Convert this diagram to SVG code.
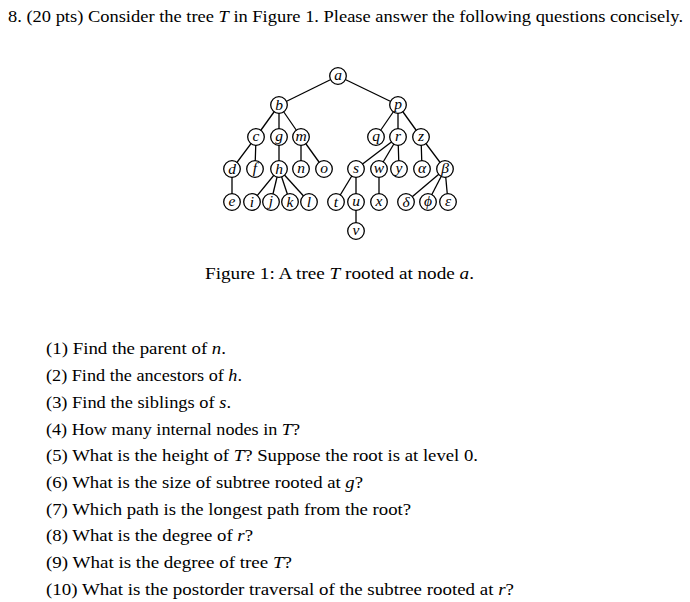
<svg xmlns="http://www.w3.org/2000/svg" width="690" height="602" viewBox="0 0 690 602">
<style>
.t{font-size:16px;font-family:"Liberation Serif",serif}
.i{font-style:italic}
.node circle{fill:#fff;stroke:#000;stroke-width:1.3}
.node text{font-size:15.5px;font-style:italic;text-anchor:middle;font-family:"Liberation Serif",serif}
#edges line{stroke:#000;stroke-width:1.3}
</style>
<rect width="690" height="602" fill="#fff"/>
<text class="t" x="8" y="22" textLength="675" lengthAdjust="spacingAndGlyphs">8. (20 pts) Consider the tree <tspan class="i">T</tspan> in Figure 1. Please answer the following questions concisely.</text>
<g id="edges">
<line x1="338" y1="76" x2="279" y2="105"/><line x1="338" y1="76" x2="398" y2="105"/>
<line x1="279" y1="105" x2="256" y2="137"/><line x1="279" y1="105" x2="279" y2="137"/><line x1="279" y1="105" x2="301" y2="137"/>
<line x1="398" y1="105" x2="376" y2="137"/><line x1="398" y1="105" x2="398" y2="137"/><line x1="398" y1="105" x2="421" y2="137"/>
<line x1="256" y1="137" x2="232" y2="169"/><line x1="256" y1="137" x2="255" y2="169"/>
<line x1="279" y1="137" x2="279" y2="169"/>
<line x1="301" y1="137" x2="301" y2="169"/><line x1="301" y1="137" x2="324" y2="169"/>
<line x1="398" y1="137" x2="356" y2="169"/><line x1="398" y1="137" x2="379" y2="169"/><line x1="398" y1="137" x2="399" y2="169"/>
<line x1="421" y1="137" x2="422" y2="169"/><line x1="421" y1="137" x2="445" y2="169"/>
<line x1="232" y1="169" x2="232" y2="202"/>
<line x1="279" y1="169" x2="252" y2="202"/><line x1="279" y1="169" x2="271" y2="202"/><line x1="279" y1="169" x2="290" y2="202"/><line x1="279" y1="169" x2="309" y2="202"/>
<line x1="356" y1="169" x2="336" y2="202"/><line x1="356" y1="169" x2="356" y2="202"/>
<line x1="379" y1="169" x2="379" y2="202"/>
<line x1="445" y1="169" x2="406" y2="202"/><line x1="445" y1="169" x2="428" y2="202"/><line x1="445" y1="169" x2="448" y2="202"/>
<line x1="356" y1="202" x2="356" y2="231"/>
</g>
<g id="n-a" class="node"><circle cx="338" cy="76" r="8.3"/><text x="338" y="80">a</text></g>
<g id="n-b" class="node"><circle cx="279" cy="105" r="8.3"/><text x="279" y="109.5">b</text></g>
<g id="n-p" class="node"><circle cx="398" cy="105" r="8.3"/><text x="398" y="108.5">p</text></g>
<g id="n-c" class="node"><circle cx="256" cy="137" r="8.3"/><text x="256" y="141">c</text></g>
<g id="n-g" class="node"><circle cx="279" cy="137" r="8.3"/><text x="279" y="140.5">g</text></g>
<g id="n-m" class="node"><circle cx="301" cy="137" r="8.3"/><text x="301" y="141">m</text></g>
<g id="n-q" class="node"><circle cx="376" cy="137" r="8.3"/><text x="376" y="140.5">q</text></g>
<g id="n-r" class="node"><circle cx="398" cy="137" r="8.3"/><text x="398" y="141">r</text></g>
<g id="n-z" class="node"><circle cx="421" cy="137" r="8.3"/><text x="421" y="141">z</text></g>
<g id="n-d" class="node"><circle cx="232" cy="169" r="8.3"/><text x="232" y="173.5">d</text></g>
<g id="n-f" class="node"><circle cx="255" cy="169" r="8.3"/><text x="255" y="172.5">f</text></g>
<g id="n-h" class="node"><circle cx="279" cy="169" r="8.3"/><text x="279" y="173.5">h</text></g>
<g id="n-n" class="node"><circle cx="301" cy="169" r="8.3"/><text x="301" y="173">n</text></g>
<g id="n-o" class="node"><circle cx="324" cy="169" r="8.3"/><text x="324" y="173">o</text></g>
<g id="n-s" class="node"><circle cx="356" cy="169" r="8.3"/><text x="356" y="173">s</text></g>
<g id="n-w" class="node"><circle cx="379" cy="169" r="8.3"/><text x="379" y="173">w</text></g>
<g id="n-y" class="node"><circle cx="399" cy="169" r="8.3"/><text x="399" y="172.5">y</text></g>
<g id="n-alpha" class="node"><circle cx="422" cy="169" r="8.3"/><text x="422" y="173">α</text></g>
<g id="n-beta" class="node"><circle cx="445" cy="169" r="8.3"/><text x="445" y="173">β</text></g>
<g id="n-e" class="node"><circle cx="232" cy="202" r="8.3"/><text x="232" y="206">e</text></g>
<g id="n-i" class="node"><circle cx="252" cy="202" r="8.3"/><text x="252" y="206.5">i</text></g>
<g id="n-j" class="node"><circle cx="271" cy="202" r="8.3"/><text x="271" y="206">j</text></g>
<g id="n-k" class="node"><circle cx="290" cy="202" r="8.3"/><text x="290" y="206.5">k</text></g>
<g id="n-l" class="node"><circle cx="309" cy="202" r="8.3"/><text x="309" y="206.5">l</text></g>
<g id="n-t" class="node"><circle cx="336" cy="202" r="8.3"/><text x="336" y="206.5">t</text></g>
<g id="n-u" class="node"><circle cx="356" cy="202" r="8.3"/><text x="356" y="206">u</text></g>
<g id="n-x" class="node"><circle cx="379" cy="202" r="8.3"/><text x="379" y="206">x</text></g>
<g id="n-delta" class="node"><circle cx="406" cy="202" r="8.3"/><text x="406" y="206.5">δ</text></g>
<g id="n-phi" class="node"><circle cx="428" cy="202" r="8.3"/><text x="428" y="206">ϕ</text></g>
<g id="n-epsilon" class="node"><circle cx="448" cy="202" r="8.3"/><text x="448" y="206">ε</text></g>
<g id="n-v" class="node"><circle cx="356" cy="231" r="8.3"/><text x="356" y="235">v</text></g>
<text class="t" x="205" y="279" textLength="269" lengthAdjust="spacingAndGlyphs">Figure 1: A tree <tspan class="i">T</tspan> rooted at node <tspan class="i">a</tspan>.</text>
<text class="t" x="46" y="354" textLength="180" lengthAdjust="spacingAndGlyphs">(1) Find the parent of <tspan class="i">n</tspan>.</text>
<text class="t" x="46" y="381" textLength="196" lengthAdjust="spacingAndGlyphs">(2) Find the ancestors of <tspan class="i">h</tspan>.</text>
<text class="t" x="46" y="408" textLength="185" lengthAdjust="spacingAndGlyphs">(3) Find the siblings of <tspan class="i">s</tspan>.</text>
<text class="t" x="46" y="435" textLength="254" lengthAdjust="spacingAndGlyphs">(4) How many internal nodes in <tspan class="i">T</tspan>?</text>
<text class="t" x="46" y="461" textLength="432" lengthAdjust="spacingAndGlyphs">(5) What is the height of <tspan class="i">T</tspan>? Suppose the root is at level 0.</text>
<text class="t" x="46" y="488" textLength="317" lengthAdjust="spacingAndGlyphs">(6) What is the size of subtree rooted at <tspan class="i">g</tspan>?</text>
<text class="t" x="46" y="515" textLength="365" lengthAdjust="spacingAndGlyphs">(7) Which path is the longest path from the root?</text>
<text class="t" x="46" y="541" textLength="207" lengthAdjust="spacingAndGlyphs">(8) What is the degree of <tspan class="i">r</tspan>?</text>
<text class="t" x="46" y="568" textLength="246" lengthAdjust="spacingAndGlyphs">(9) What is the degree of tree <tspan class="i">T</tspan>?</text>
<text class="t" x="46" y="595" textLength="468" lengthAdjust="spacingAndGlyphs">(10) What is the postorder traversal of the subtree rooted at <tspan class="i">r</tspan>?</text>
</svg>
